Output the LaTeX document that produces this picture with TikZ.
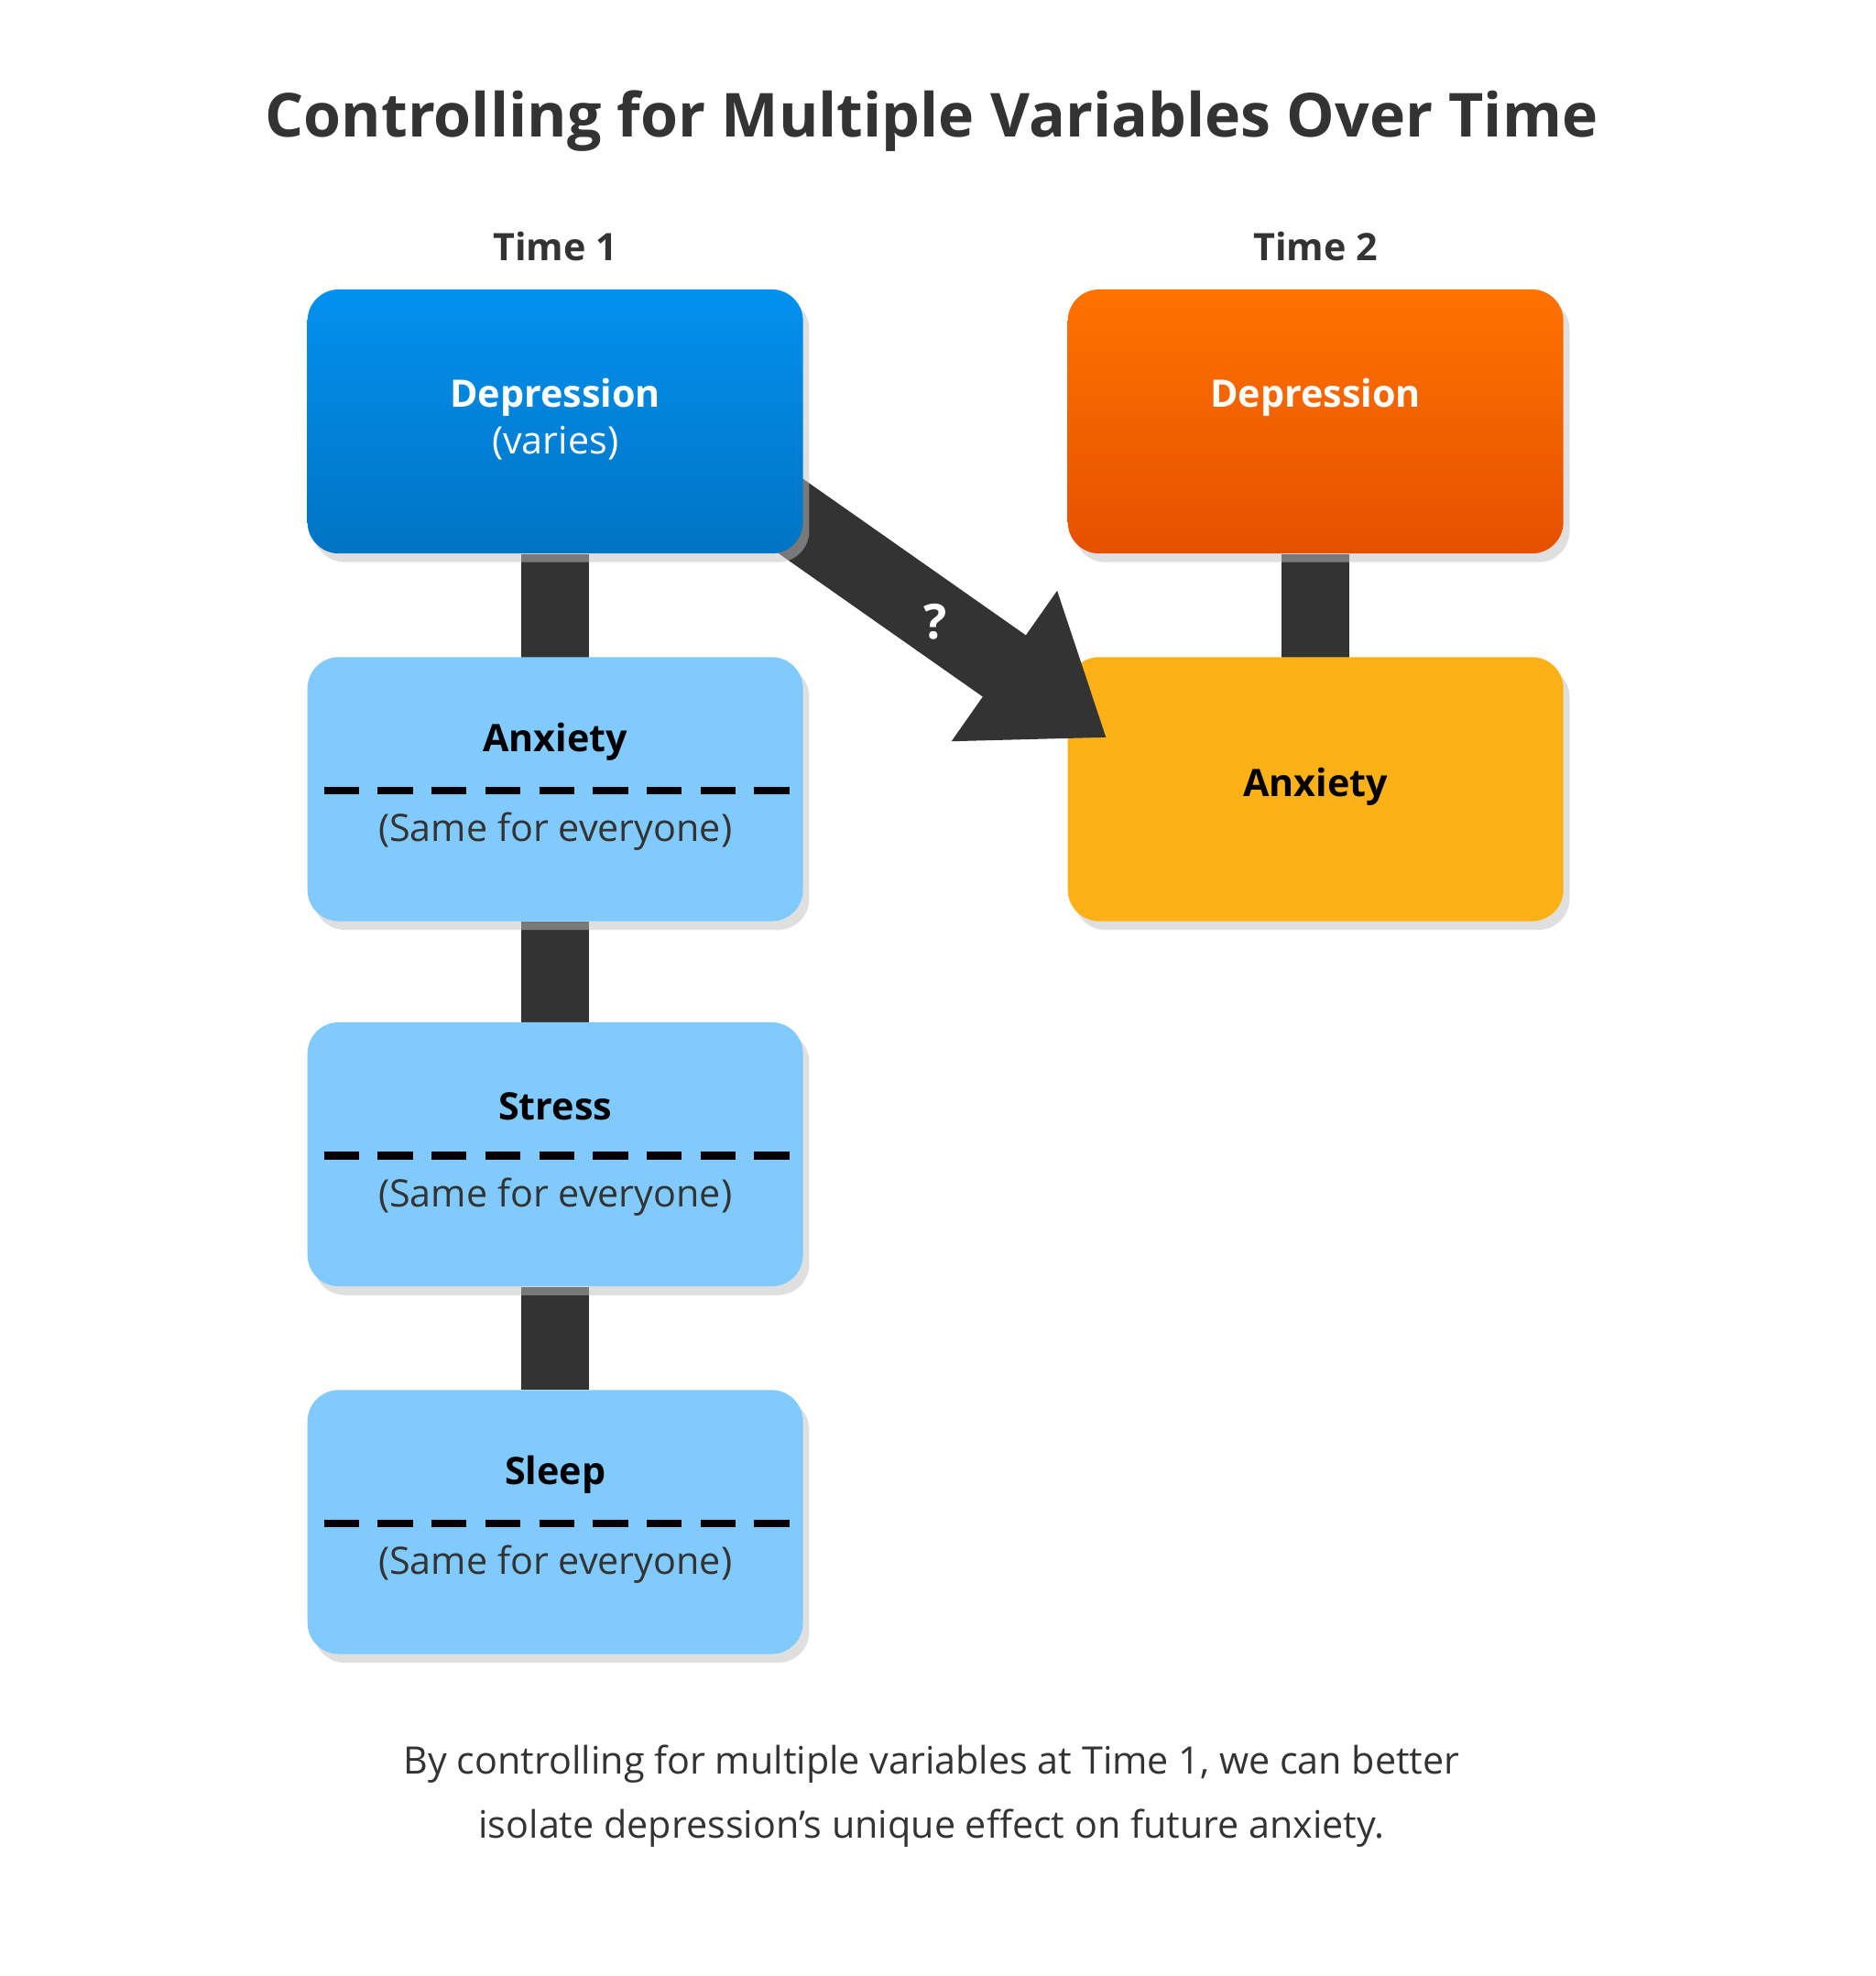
\documentclass[tikz,border=0pt]{standalone}
\usepackage{fontspec}
\setmainfont{Open Sans}
\usetikzlibrary{shadows,arrows.meta}

\definecolor{ink}{HTML}{333333}
\definecolor{paleblue}{HTML}{80CAFD}
\tikzstyle{box} = [rounded corners=0.25cm,minimum width=3.96cm,minimum height=2.11cm,
  drop shadow={shadow xshift=0.05cm,shadow yshift=-0.07cm,fill=black!25,opacity=0.5}]
\tikzstyle{varbox} = [box,fill=paleblue]
\tikzstyle{link} = [draw=ink,line width=0.54cm]
\tikzstyle{cut} = [draw=black,line width=0.06cm,dash pattern=on 0.28cm off 0.15cm]
\tikzstyle{lbl} = [font=\fontsize{8.6pt}{10pt}\selectfont\bfseries]
\tikzstyle{sub} = [font=\fontsize{8.6pt}{10pt}\selectfont]

\begin{document}
\begin{tikzpicture}[x=0.01cm,y=-0.01cm]
\useasboundingbox (0,0) rectangle (1500,1580);

\node[font=\fontsize{13.8pt}{16pt}\selectfont\bfseries,text=ink] (title) at (745,97) {Controlling for Multiple Variables Over Time};
\node[lbl,text=ink] (t1) at (444,197) {Time 1};
\node[lbl,text=ink] (t2) at (1052,197) {Time 2};

% connectors
\draw[link] (444,443) -- (444,526);
\draw[link] (444,737) -- (444,818);
\draw[link] (444,1029) -- (444,1111);
\draw[link] (1052,443) -- (1052,526);

% time 2
\node[box,top color=orange!90!red,bottom color=orange!70!red!90!black] (dep2) at (1052,337) {};
\node[lbl,text=white] at (1052,318) {Depression};
\node[box,fill={rgb,255:red,252;green,177;blue,23}] (anx2) at (1052,631) {};
\node[lbl] at (1052,629) {Anxiety};

% cross-lagged path
\coordinate (from) at (600,390);
\coordinate (to) at (885,590);
\draw[ink,line width=0.6cm,-{Triangle[length=1cm,width=1.4cm]}] (from) -- (to);
\node[lbl,text=white,font=\fontsize{11pt}{12pt}\selectfont\bfseries] (q) at (748,497) {?};

% time 1
\node[box,top color={rgb,255:red,2;green,145;blue,238},bottom color={rgb,255:red,1;green,116;blue,196}] (dep1) at (444,337) {};
\node[lbl,text=white] at (444,318) {Depression};
\node[sub,text=white] at (444,354) {(varies)};

\foreach \name/\y/\txt in {anx1/631/Anxiety,str1/923/Stress,slp1/1217/Sleep}{
  \node[varbox] (\name) at (444,\y) {};
  \node[lbl] at (444,\y-38) {\txt};
  \draw[cut] (259,\y+1) -- (632,\y+1);
  \node[sub,text=ink] at (444,\y+34) {(Same for everyone)};
}

\node[sub,text=ink,align=center,font=\fontsize{8.6pt}{14.6pt}\selectfont] (note) at (745,1436)
  {By controlling for multiple variables at Time 1, we can better\\isolate depression's unique effect on future anxiety.};
\end{tikzpicture}
\end{document}
